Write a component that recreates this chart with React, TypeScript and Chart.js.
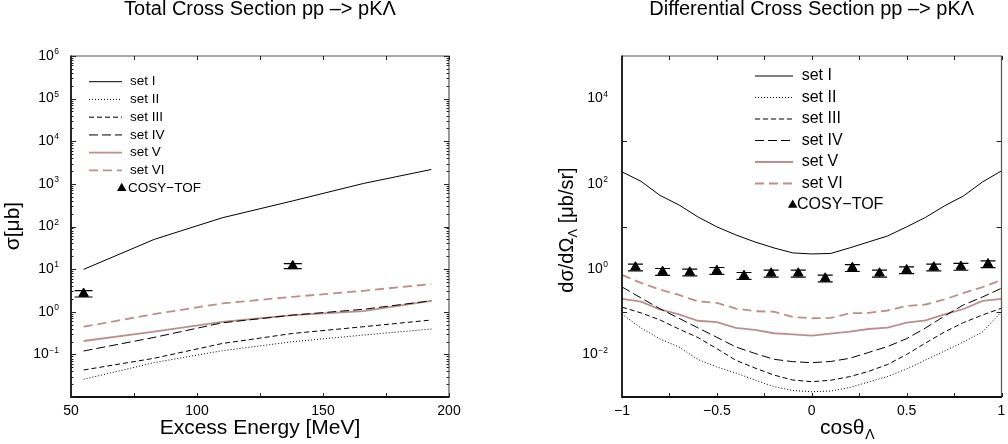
import React, { useEffect, useRef } from 'react';
import { Chart, registerables } from 'chart.js';

Chart.register(...registerables);

const FONT = "'Liberation Sans', Arial, Helvetica, sans-serif";

// ---------- Left panel: total cross section ----------
const energyMeV = [55, 83, 110, 138, 166, 193];
const totalSetI = [9.85, 49.8, 160, 399, 1021, 2176];
const totalSetII = [0.026, 0.064, 0.122, 0.198, 0.284, 0.393];
const totalSetIII = [0.043, 0.081, 0.18, 0.31, 0.445, 0.64];
const totalSetIV = [0.12, 0.25, 0.55, 0.835, 1.14, 1.81];
const totalSetV = [0.206, 0.34, 0.58, 0.835, 1.04, 1.81];
const totalSetVI = [0.445, 0.88, 1.57, 2.24, 3.1, 4.46];
const cosyEnergy = [55, 138];
const cosyTotal = [2.67, 11.9];
const cosyTotalErr = [0.45, 1.6];

// ---------- Right panel: differential cross section ----------
const cosTheta = [-1, -0.9, -0.8, -0.7, -0.6, -0.5, -0.4, -0.3, -0.2, -0.1, 0, 0.1, 0.2, 0.3, 0.4, 0.5, 0.6, 0.7, 0.8, 0.9, 1];
const diffSetI = [191, 115, 53.7, 32.1, 16.8, 9.8, 6.35, 4.35, 3.15, 2.4, 2.27, 2.33, 3.15, 4.35, 6.0, 9.8, 16.4, 30.5, 52.3, 111, 202];
const diffSetII = [0.088, 0.0417, 0.023, 0.0149, 0.00759, 0.00506, 0.00366, 0.0025, 0.00176, 0.00142, 0.00133, 0.00138, 0.00167, 0.00225, 0.00303, 0.00454, 0.0074, 0.012, 0.0196, 0.0336, 0.1];
const diffSetIII = [0.128, 0.094, 0.0643, 0.0394, 0.0249, 0.0136, 0.00727, 0.0048, 0.00328, 0.0025, 0.00229, 0.00247, 0.003, 0.004, 0.0058, 0.00995, 0.0185, 0.0336, 0.0557, 0.084, 0.121];
const diffSetIV = [0.382, 0.211, 0.1175, 0.0703, 0.042, 0.0251, 0.0149, 0.01055, 0.00767, 0.00675, 0.00638, 0.00681, 0.00809, 0.0111, 0.0153, 0.0234, 0.0417, 0.0796, 0.145, 0.222, 0.356];
const diffSetV = [0.2, 0.173, 0.113, 0.0865, 0.0615, 0.0568, 0.0417, 0.0374, 0.0313, 0.0293, 0.0275, 0.0306, 0.0341, 0.0394, 0.0424, 0.0555, 0.0625, 0.0865, 0.116, 0.179, 0.2];
const diffSetVI = [0.73, 0.474, 0.333, 0.248, 0.175, 0.161, 0.119, 0.103, 0.1, 0.0755, 0.0703, 0.0715, 0.092, 0.094, 0.107, 0.137, 0.148, 0.195, 0.276, 0.376, 0.557];
const cosyCos = [-0.929, -0.786, -0.643, -0.5, -0.357, -0.214, -0.071, 0.071, 0.214, 0.357, 0.5, 0.643, 0.786, 0.929];
const cosyDiff = [1.11, 0.873, 0.845, 0.922, 0.703, 0.8, 0.8, 0.61, 1.08, 0.8, 0.957, 1.11, 1.15, 1.32];
const cosyDiffErr = [0.2, 0.16, 0.15, 0.17, 0.13, 0.15, 0.15, 0.11, 0.2, 0.15, 0.17, 0.2, 0.21, 0.24];

// ---------- Labels / ticks ----------
const seriesNames = ['set I', 'set II', 'set III', 'set IV', 'set V', 'set VI'];
const dataName = 'COSY\u2212TOF';
const leftTitle = 'Total Cross Section pp \u2013> pK\u039B';
const rightTitle = 'Differential Cross Section pp \u2013> pK\u039B';
const leftXTickMarks = [50, 75, 100, 125, 150, 175, 200];
const rightXTickMarks = [-1, -0.75, -0.5, -0.25, 0, 0.25, 0.5, 0.75, 1];
const leftYLabelExps = [-1, 0, 1, 2, 3, 4, 5, 6];
const leftYMajorExps = [-2, -1, 0, 1, 2, 3, 4, 5, 6];
const rightYLabelExps = [-2, 0, 2, 4];
const rightYMajorExps = [-1, 1, 3];

const STYLE = [
  { color: '#000000', width: 1, dash: [] as number[] },
  { color: '#000000', width: 1, dash: [1, 2] },
  { color: '#000000', width: 1, dash: [5, 3] },
  { color: '#000000', width: 1, dash: [9, 4] },
  { color: '#bc8f8f', width: 1.8, dash: [] as number[] },
  { color: '#bc8f8f', width: 1.8, dash: [9, 5] },
];

function lineSets(xs: number[], ys: number[][]) {
  return ys.map((arr, i) => ({
    type: 'line',
    label: seriesNames[i],
    data: arr.map((y, j) => ({ x: xs[j], y })),
    borderColor: STYLE[i].color,
    borderWidth: STYLE[i].width,
    borderDash: STYLE[i].dash,
    pointRadius: 0,
    fill: false,
    tension: 0,
  }));
}

function cosySet(xs: number[], ys: number[]) {
  return {
    type: 'line',
    label: dataName,
    data: ys.map((y, j) => ({ x: xs[j], y })),
    showLine: false,
    pointStyle: 'triangle',
    pointRadius: 5.5,
    pointBackgroundColor: '#000',
    pointBorderColor: '#000',
    pointBorderWidth: 1,
  };
}

function drawPow10(ctx: CanvasRenderingContext2D, exp: number, xr: number, y: number) {
  const e = exp < 0 ? '\u2212' + String(-exp) : String(exp);
  ctx.font = `8.5px ${FONT}`;
  const ew = ctx.measureText(e).width;
  ctx.textAlign = 'left';
  ctx.textBaseline = 'alphabetic';
  ctx.fillText(e, xr - ew, y - 1.8);
  ctx.font = `14px ${FONT}`;
  ctx.textAlign = 'right';
  ctx.textBaseline = 'middle';
  ctx.fillText('10', xr - ew - 0.5, y);
}

type Leg = { x0: number; x1: number; tx: number; y0: number; dy: number; font: number; mx: number; mtx: number };

type Deco = {
  title: string;
  xTicks: number[];
  xTickLen: number;
  yMajor: number[];
  yMinor: boolean;
  yLabels: number[];
  yLabelRight: number;
  leg: Leg;
  errs: number[];
  capW: number;
  axisTitles: (ctx: CanvasRenderingContext2D) => void;
};

function decoPlugin(cfg: Deco) {
  return {
    id: 'deco',
    beforeDatasetsDraw(chart: any) {
      const { ctx, scales } = chart;
      const idx = chart.data.datasets.length - 1;
      const meta = chart.getDatasetMeta(idx);
      const ds = chart.data.datasets[idx];
      ctx.save();
      ctx.strokeStyle = '#000';
      ctx.lineWidth = 1.2;
      ctx.setLineDash([]);
      ctx.beginPath();
      meta.data.forEach((pt: any, j: number) => {
        const v = ds.data[j].y;
        const e = cfg.errs[j];
        const yHi = scales.y.getPixelForValue(v + e);
        const yLo = scales.y.getPixelForValue(v - e);
        ctx.moveTo(pt.x - cfg.capW, yHi);
        ctx.lineTo(pt.x + cfg.capW, yHi);
        ctx.moveTo(pt.x - cfg.capW, yLo);
        ctx.lineTo(pt.x + cfg.capW, yLo);
        ctx.moveTo(pt.x, yHi);
        ctx.lineTo(pt.x, yLo);
      });
      ctx.stroke();
      ctx.restore();
    },
    afterDraw(chart: any) {
      const { ctx, chartArea: a, scales } = chart;
      const xs = scales.x;
      const ys = scales.y;
      ctx.save();
      ctx.setLineDash([]);
      // frame: heavier left/bottom, lighter top/right
      ctx.strokeStyle = '#555';
      ctx.lineWidth = 1.2;
      ctx.beginPath();
      ctx.moveTo(a.left, a.top);
      ctx.lineTo(a.right, a.top);
      ctx.lineTo(a.right, a.bottom);
      ctx.stroke();
      ctx.strokeStyle = '#111';
      ctx.lineWidth = 1.8;
      ctx.beginPath();
      ctx.moveTo(a.left, a.top - 0.5);
      ctx.lineTo(a.left, a.bottom);
      ctx.lineTo(a.right + 0.5, a.bottom);
      ctx.stroke();
      // ticks
      ctx.strokeStyle = '#222';
      ctx.lineWidth = 1;
      ctx.beginPath();
      for (const v of cfg.xTicks) {
        const px = Math.round(xs.getPixelForValue(v)) + 0.5;
        ctx.moveTo(px, a.bottom);
        ctx.lineTo(px, a.bottom - cfg.xTickLen);
        ctx.moveTo(px, a.top);
        ctx.lineTo(px, a.top + cfg.xTickLen);
      }
      const yTick = (val: number, len: number) => {
        const py = Math.round(ys.getPixelForValue(val)) + 0.5;
        ctx.moveTo(a.left, py);
        ctx.lineTo(a.left + len, py);
        ctx.moveTo(a.right, py);
        ctx.lineTo(a.right - len, py);
      };
      for (const ex of cfg.yMajor) yTick(Math.pow(10, ex), 5);
      if (cfg.yMinor) {
        for (let d = cfg.yMajor[0]; d < cfg.yMajor[cfg.yMajor.length - 1]; d++) {
          for (let m = 2; m <= 9; m++) yTick(m * Math.pow(10, d), 2.5);
        }
      }
      ctx.stroke();
      // y tick labels
      ctx.fillStyle = '#000';
      for (const ex of cfg.yLabels) drawPow10(ctx, ex, cfg.yLabelRight, ys.getPixelForValue(Math.pow(10, ex)));
      // title
      ctx.font = `20px ${FONT}`;
      ctx.textAlign = 'center';
      ctx.textBaseline = 'alphabetic';
      ctx.fillText(cfg.title, (a.left + a.right) / 2, 15);
      // axis titles
      cfg.axisTitles(ctx);
      // legend
      const L = cfg.leg;
      ctx.font = `${L.font}px ${FONT}`;
      ctx.textAlign = 'left';
      ctx.textBaseline = 'middle';
      for (let i = 0; i < 6; i++) {
        const y = L.y0 + i * L.dy;
        ctx.strokeStyle = STYLE[i].color;
        ctx.lineWidth = STYLE[i].width;
        ctx.setLineDash(STYLE[i].dash);
        ctx.beginPath();
        ctx.moveTo(L.x0, y);
        ctx.lineTo(L.x1, y);
        ctx.stroke();
        ctx.fillText(seriesNames[i], L.tx, y);
      }
      ctx.setLineDash([]);
      const yc = L.y0 + 6 * L.dy;
      const r = 5.5;
      ctx.beginPath();
      ctx.moveTo(L.mx, yc - r);
      ctx.lineTo(L.mx + r * 0.866, yc + r * 0.5);
      ctx.lineTo(L.mx - r * 0.866, yc + r * 0.5);
      ctx.closePath();
      ctx.fill();
      ctx.fillText(dataName, L.mtx, yc);
      ctx.restore();
    },
  };
}

function makeLeft() {
  const cfg: Deco = {
    title: leftTitle,
    xTicks: leftXTickMarks,
    xTickLen: 4,
    yMajor: leftYMajorExps,
    yMinor: true,
    yLabels: leftYLabelExps,
    yLabelRight: 59,
    leg: { x0: 89, x1: 122, tx: 130, y0: 81.7, dy: 17.75, font: 13.5, mx: 121.7, mtx: 128 },
    errs: cosyTotalErr,
    capW: 9,
    axisTitles: (ctx) => {
      ctx.font = `21px ${FONT}`;
      ctx.textAlign = 'center';
      ctx.textBaseline = 'alphabetic';
      ctx.fillText('Excess Energy [MeV]', 260, 434);
      ctx.save();
      ctx.translate(13, 226);
      ctx.rotate(-Math.PI / 2);
      ctx.textBaseline = 'middle';
      ctx.fillText('\u03C3[\u03BCb]', 0, 0);
      ctx.restore();
    },
  };
  return {
    type: 'line',
    data: {
      datasets: [
        ...lineSets(energyMeV, [totalSetI, totalSetII, totalSetIII, totalSetIV, totalSetV, totalSetVI]),
        cosySet(cosyEnergy, cosyTotal),
      ],
    },
    options: {
      responsive: false,
      animation: false,
      layout: { padding: { left: 0, right: 55, top: 56, bottom: 0 } },
      plugins: { legend: { display: false }, title: { display: false }, tooltip: { enabled: false } },
      scales: {
        x: {
          type: 'linear', min: 50, max: 200,
          ticks: { stepSize: 50, color: '#000', font: { size: 14, family: FONT }, padding: 6, maxRotation: 0, autoSkip: false },
          grid: { display: false, drawTicks: false },
          border: { display: false },
          afterFit: (s: any) => { s.height = 47; s.paddingLeft = 0; s.paddingRight = 0; },
        },
        y: {
          type: 'logarithmic', min: 0.01, max: 1e6,
          ticks: { display: false },
          grid: { display: false, drawTicks: false },
          border: { display: false },
          afterFit: (s: any) => { s.width = 71; s.paddingTop = 0; s.paddingBottom = 0; },
        },
      },
    },
    plugins: [decoPlugin(cfg)],
  };
}

function makeRight() {
  const cfg: Deco = {
    title: rightTitle,
    xTicks: rightXTickMarks,
    xTickLen: 4,
    yMajor: rightYMajorExps,
    yMinor: false,
    yLabels: rightYLabelExps,
    yLabelRight: 104,
    leg: { x0: 251, x1: 289, tx: 297.7, y0: 76, dy: 21.5, font: 16, mx: 288.7, mtx: 293 },
    errs: cosyDiffErr,
    capW: 7.5,
    axisTitles: (ctx) => {
      // x title: cosθ_Λ
      ctx.font = `21px ${FONT}`;
      ctx.textAlign = 'left';
      ctx.textBaseline = 'alphabetic';
      const main = 'cos\u03B8';
      ctx.fillText(main, 316, 434);
      const w = ctx.measureText(main).width;
      ctx.font = `14px ${FONT}`;
      ctx.fillText('\u039B', 316 + w + 1, 439);
      // y title: dσ/dΩ_Λ [μb/sr]
      ctx.save();
      ctx.translate(63, 230);
      ctx.rotate(-Math.PI / 2);
      ctx.textBaseline = 'middle';
      ctx.font = `20px ${FONT}`;
      const p1 = 'd\u03C3/d\u03A9';
      const p3 = ' [\u03BCb/sr]';
      const w1 = ctx.measureText(p1).width;
      const w3 = ctx.measureText(p3).width;
      ctx.font = `13px ${FONT}`;
      const w2 = ctx.measureText('\u039B').width;
      const total = w1 + w2 + w3;
      let x = -total / 2;
      ctx.font = `20px ${FONT}`;
      ctx.textAlign = 'left';
      ctx.fillText(p1, x, 0);
      x += w1;
      ctx.font = `13px ${FONT}`;
      ctx.fillText('\u039B', x, 6);
      x += w2;
      ctx.font = `20px ${FONT}`;
      ctx.fillText(p3, x, 0);
      ctx.restore();
    },
  };
  return {
    type: 'line',
    data: {
      datasets: [
        ...lineSets(cosTheta, [diffSetI, diffSetII, diffSetIII, diffSetIV, diffSetV, diffSetVI]),
        cosySet(cosyCos, cosyDiff),
      ],
    },
    options: {
      responsive: false,
      animation: false,
      layout: { padding: { left: 0, right: 1, top: 56, bottom: 0 } },
      plugins: { legend: { display: false }, title: { display: false }, tooltip: { enabled: false } },
      scales: {
        x: {
          type: 'linear', min: -1, max: 1,
          ticks: {
            stepSize: 0.5, color: '#000', font: { size: 14, family: FONT }, padding: 6, maxRotation: 0, autoSkip: false,
            callback: (v: any) => (v < 0 ? '\u2212' + String(Math.abs(v)) : String(v)),
          },
          grid: { display: false, drawTicks: false },
          border: { display: false },
          afterFit: (s: any) => { s.height = 47; s.paddingLeft = 0; s.paddingRight = 0; },
        },
        y: {
          type: 'logarithmic', min: 1e-3, max: 1e5,
          ticks: { display: false },
          grid: { display: false, drawTicks: false },
          border: { display: false },
          afterFit: (s: any) => { s.width = 118; s.paddingTop = 0; s.paddingBottom = 0; },
        },
      },
    },
    plugins: [decoPlugin(cfg)],
  };
}

function Panel({ make, left }: { make: () => any; left: number }) {
  const ref = useRef<HTMLCanvasElement>(null);
  useEffect(() => {
    const chart = new Chart(ref.current as HTMLCanvasElement, make());
    return () => chart.destroy();
  }, []);
  return (
    <div style={{ position: 'absolute', left, top: 0, width: 504, height: 444 }}>
      <canvas ref={ref} width={504} height={444} style={{ display: 'block', width: 504, height: 444 }} />
    </div>
  );
}

export default function App() {
  return (
    <div style={{ position: 'absolute', left: 0, top: 0, width: 1008, height: 444, background: '#fff', overflow: 'hidden' }}>
      <Panel make={makeLeft} left={0} />
      <Panel make={makeRight} left={504} />
    </div>
  );
}
